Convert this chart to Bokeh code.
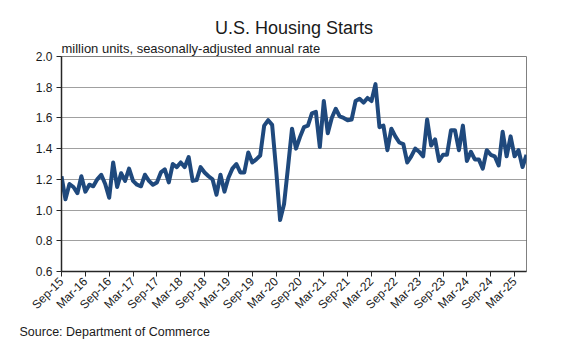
import math
from bokeh.plotting import figure
from bokeh.models import Range1d, FixedTicker, Title, ColumnDataSource
from bokeh.embed import file_html
from bokeh.resources import INLINE

# Monthly housing starts, Sep-2015 .. Jun-2025 (million units, SAAR)
y2015 = [1.22, 1.07, 1.17, 1.15]
y2016 = [1.11, 1.22, 1.12, 1.165, 1.155, 1.20, 1.23, 1.17, 1.08, 1.31, 1.15, 1.24]
y2017 = [1.19, 1.27, 1.19, 1.165, 1.155, 1.23, 1.19, 1.165, 1.18, 1.245, 1.265, 1.18]
y2018 = [1.30, 1.28, 1.31, 1.28, 1.345, 1.19, 1.195, 1.28, 1.245, 1.22, 1.20, 1.10]
y2019 = [1.23, 1.12, 1.21, 1.27, 1.30, 1.245, 1.245, 1.375, 1.31, 1.33, 1.355, 1.55]
y2020 = [1.585, 1.555, 1.265, 0.935, 1.04, 1.28, 1.53, 1.40, 1.475, 1.54, 1.55, 1.63]
y2021 = [1.64, 1.41, 1.71, 1.50, 1.60, 1.66, 1.61, 1.60, 1.585, 1.59, 1.71, 1.725]
y2022 = [1.70, 1.73, 1.71, 1.82, 1.54, 1.55, 1.39, 1.53, 1.48, 1.44, 1.43, 1.31]
y2023 = [1.35, 1.40, 1.38, 1.35, 1.59, 1.42, 1.46, 1.32, 1.36, 1.36, 1.52, 1.52]
y2024 = [1.39, 1.55, 1.32, 1.38, 1.33, 1.33, 1.27, 1.39, 1.36, 1.35, 1.29, 1.51]
y2025 = [1.35, 1.48, 1.35, 1.39, 1.28, 1.36]

starts = y2015 + y2016 + y2017 + y2018 + y2019 + y2020 + y2021 + y2022 + y2023 + y2024 + y2025
months = list(range(len(starts)))  # 0 = Sep-15

tick_months = list(range(0, 115, 6))
tick_labels = ["Sep-15", "Mar-16", "Sep-16", "Mar-17", "Sep-17", "Mar-18", "Sep-18",
               "Mar-19", "Sep-19", "Mar-20", "Sep-20", "Mar-21", "Sep-21", "Mar-22",
               "Sep-22", "Mar-23", "Sep-23", "Mar-24", "Sep-24", "Mar-25"]
y_ticks = [0.6, 0.8, 1.0, 1.2, 1.4, 1.6, 1.8, 2.0]

FONT = "Liberation Sans"
TXT = "#1a1a1a"

p = figure(width=578, height=356, output_backend="svg", toolbar_location=None,
           x_range=Range1d(0, len(starts) - 1), y_range=Range1d(0.6, 2.0),
           min_border_left=61, min_border_right=52, min_border_top=56, min_border_bottom=85)
p.title.visible = False

src = ColumnDataSource(dict(x=months, y=starts))
p.line("x", "y", source=src, line_color="#1F497D", line_width=4, line_join="round")

# axes
p.xaxis.ticker = FixedTicker(ticks=tick_months)
p.xaxis.major_label_overrides = {m: t for m, t in zip(tick_months, tick_labels)}
p.xaxis.major_label_orientation = math.pi / 4
p.yaxis.ticker = FixedTicker(ticks=y_ticks)
p.yaxis.major_label_overrides = {v: f"{v:.1f}" for v in y_ticks}
for ax in (p.xaxis[0], p.yaxis[0]):
    ax.axis_line_color = "#262626"
    ax.axis_line_width = 1.5
    ax.major_tick_line_color = "#262626"
    ax.major_tick_in = 0
    ax.major_tick_out = 5
    ax.minor_tick_line_color = None
    ax.major_label_text_font = FONT
    ax.major_label_text_font_size = "12px"
    ax.major_label_text_color = TXT
p.xaxis.major_label_standoff = 3
p.yaxis.major_label_standoff = 4

p.xgrid.grid_line_color = None
p.ygrid.grid_line_color = "#404040"
p.ygrid.grid_line_dash = "1 1"
p.ygrid.grid_line_width = 1
p.outline_line_color = "#808080"
p.outline_line_width = 1

sub = Title(text="million units, seasonally-adjusted annual rate", align="left",
            text_font=FONT, text_font_size="13px", text_font_style="normal",
            text_color=TXT, standoff=2, offset=0)
ttl = Title(text="U.S. Housing Starts", align="center",
            text_font=FONT, text_font_size="18px", text_font_style="normal",
            text_color=TXT, standoff=0, offset=0)
src_t = Title(text="Source: Department of Commerce", align="left",
              text_font=FONT, text_font_size="12.5px", text_font_style="normal",
              text_color=TXT, standoff=6, offset=-42)
p.add_layout(sub, "above")
p.add_layout(ttl, "above")
p.add_layout(src_t, "below")

open("out.html", "w").write(file_html(p, INLINE))
